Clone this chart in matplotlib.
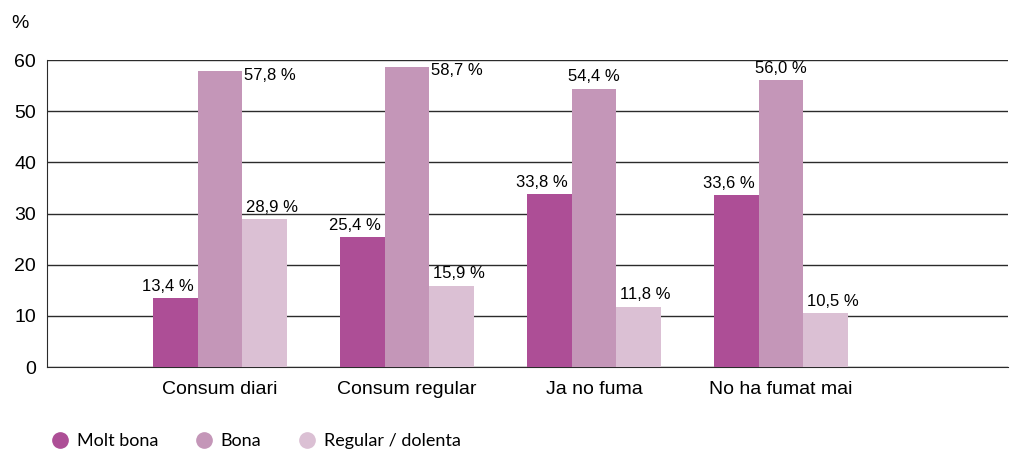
import matplotlib.pyplot as plt
from matplotlib.lines import Line2D
import numpy as np

plt.rcParams['font.family'] = ['Liberation Sans', 'DejaVu Sans']

categories = ['Consum diari', 'Consum regular', 'Ja no fuma', 'No ha fumat mai']
series_names = ['Molt bona', 'Bona', 'Regular / dolenta']
molt_bona = [13.4, 25.4, 33.8, 33.6]
bona = [57.8, 58.7, 54.4, 56.0]
regular = [28.9, 15.9, 11.8, 10.5]
yticks = [0, 10, 20, 30, 40, 50, 60]

colors = ['#AD4E96', '#C496B8', '#DBC0D4']

fig = plt.figure(figsize=(10.12, 4.49), dpi=100)
ax = fig.add_axes([47 / 1012, 1 - 367 / 449, 961 / 1012, 307 / 449])

x = np.arange(len(categories))
w = 0.239
series = [molt_bona, bona, regular]
for i, (vals, c) in enumerate(zip(series, colors)):
    ax.bar(x + (i - 1) * w, vals, width=w, color=c, zorder=3, linewidth=0)


def fmt(v):
    return ('%.1f %%' % v).replace('.', ',')


# value labels
for i, vals in enumerate(series):
    for j, v in enumerate(vals):
        xc = x[j] + (i - 1) * w
        if i == 1 and v > 57:
            # tall bars: label beside the bar top
            ax.annotate(fmt(v), (xc + w / 2, v), xytext=(1, -3), textcoords='offset points',
                        ha='left', va='center', fontsize=12)
        else:
            dx = {0: -5, 1: 0, 2: 5}[i]
            ax.annotate(fmt(v), (xc, v), xytext=(dx, 3), textcoords='offset points',
                        ha='center', va='bottom', fontsize=12)

ax.set_xlim(-0.925, 4.214)
ax.set_ylim(0, 60)
ax.set_yticks(yticks)
ax.set_xticks(x)
ax.set_xticklabels(categories, fontsize=14)
ax.tick_params(axis='y', length=0, pad=8, labelsize=14)
ax.tick_params(axis='x', length=0, pad=10)
ax.grid(axis='y', color='#2b2b2b', linewidth=1, zorder=0)
ax.set_axisbelow(True)
for s in ['top', 'right']:
    ax.spines[s].set_visible(False)
ax.spines['left'].set_color('#2b2b2b')
ax.spines['bottom'].set_color('#2b2b2b')

fig.text(20 / 1012, 1 - 23 / 449, '%', ha='center', va='center', fontsize=14)

handles = [Line2D([], [], marker='o', linestyle='none', markersize=11,
                  markerfacecolor=c, markeredgecolor=c) for c in colors]
fig.legend(handles, series_names, loc='center left', ncol=3,
           bbox_to_anchor=(51 / 1012, 1 - 441 / 449), frameon=False,
           prop={'family': 'Lato', 'size': 13}, handlelength=1.0,
           handletextpad=0.45, columnspacing=2.0, borderpad=0, borderaxespad=0)

fig.savefig('out.png', dpi=100)
